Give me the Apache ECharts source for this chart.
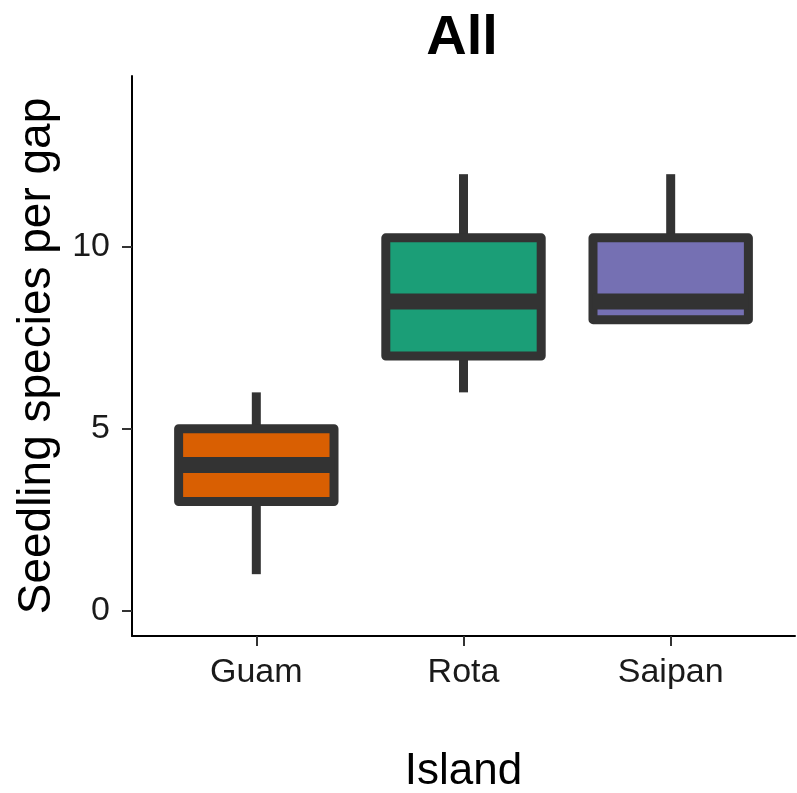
<!DOCTYPE html>
<html>
<head>
<meta charset="utf-8">
<script src="https://cdn.jsdelivr.net/npm/echarts@6/dist/echarts.min.js"></script>
<style>html,body{margin:0;padding:0;background:#fff;}#c{width:797px;height:793px;}</style>
</head>
<body>
<div id="c"></div>
<script>
var categories = ['Guam', 'Rota', 'Saipan'];
var mins    = [1, 6, 8];
var q1s     = [3, 7, 8];
var medians = [4, 8.5, 8.5];
var q3s     = [5, 10.25, 10.25];
var maxs    = [6, 12, 12];
var yTicks  = [0, 5, 10];
var fills   = ['#D95F02', '#1B9E77', '#7570B3'];

var data = categories.map(function (c, i) {
  return [i + 1, mins[i], q1s[i], medians[i], q3s[i], maxs[i]];
});

var STROKE = '#333333';
var LW = 9;

function renderItem(params, api) {
  var x = api.value(0);
  var idx = params.dataIndex;
  var halfW = api.size([0.75, 0])[0] / 2;
  var pMin = api.coord([x, api.value(1)]);
  var pQ1 = api.coord([x, api.value(2)]);
  var pMed = api.coord([x, api.value(3)]);
  var pQ3 = api.coord([x, api.value(4)]);
  var pMax = api.coord([x, api.value(5)]);
  var cx = pMed[0];
  var children = [];
  if (pMin[1] !== pQ1[1]) {
    children.push({type: 'line', shape: {x1: cx, y1: pQ1[1], x2: cx, y2: pMin[1]},
      style: {stroke: STROKE, lineWidth: LW}});
  }
  if (pMax[1] !== pQ3[1]) {
    children.push({type: 'line', shape: {x1: cx, y1: pQ3[1], x2: cx, y2: pMax[1]},
      style: {stroke: STROKE, lineWidth: LW}});
  }
  children.push({type: 'rect', shape: {x: cx - halfW, y: pQ3[1], width: halfW * 2, height: pQ1[1] - pQ3[1]},
    style: {fill: fills[idx], stroke: STROKE, lineWidth: LW, lineJoin: 'round'}});
  children.push({type: 'line', shape: {x1: cx - halfW, y1: pMed[1], x2: cx + halfW, y2: pMed[1]},
    style: {stroke: STROKE, lineWidth: 16}});
  return {type: 'group', children: children};
}

var chart = echarts.init(document.getElementById('c'), null, {renderer: 'canvas'});
chart.setOption({
  animation: false,
  backgroundColor: '#ffffff',
  title: {
    text: 'All', left: 457, top: 6, textAlign: 'center',
    textStyle: {fontFamily: 'Liberation Sans', fontWeight: 'bold', fontSize: 56, color: '#000'}
  },
  grid: {left: 132, right: 2, top: 76, bottom: 157, containLabel: false, outerBoundsMode: 'none'},
  xAxis: {
    type: 'value', min: 0.4, max: 3.6,
    name: 'Island', nameLocation: 'middle', nameGap: 114,
    nameTextStyle: {fontFamily: 'Liberation Sans', fontSize: 44, color: '#000'},
    axisLine: {show: true, onZero: false, lineStyle: {color: '#000', width: 2}},
    axisTick: {show: true, customValues: [1, 2, 3], length: 10, lineStyle: {color: '#333', width: 2}},
    axisLabel: {
      customValues: [1, 2, 3], margin: 20,
      fontFamily: 'Liberation Sans', fontSize: 34, color: '#1a1a1a',
      formatter: function (v) { return categories[Math.round(v) - 1] || ''; }
    },
    splitLine: {show: false}
  },
  yAxis: {
    type: 'value', min: -0.7, max: 14.7,
    name: 'Seedling species per gap', nameLocation: 'middle', nameGap: 72,
    nameTextStyle: {fontFamily: 'Liberation Sans', fontSize: 46, color: '#000'},
    axisLine: {show: true, onZero: false, lineStyle: {color: '#000', width: 2}},
    axisTick: {show: true, customValues: yTicks, length: 10, lineStyle: {color: '#333', width: 2}},
    axisLabel: {
      customValues: yTicks, margin: 22,
      fontFamily: 'Liberation Sans', fontSize: 34, color: '#1a1a1a'
    },
    splitLine: {show: false}
  },
  series: [{
    type: 'custom',
    renderItem: renderItem,
    encode: {x: 0, y: [1, 2, 3, 4, 5]},
    data: data,
    clip: false
  }]
});
</script>
</body>
</html>
